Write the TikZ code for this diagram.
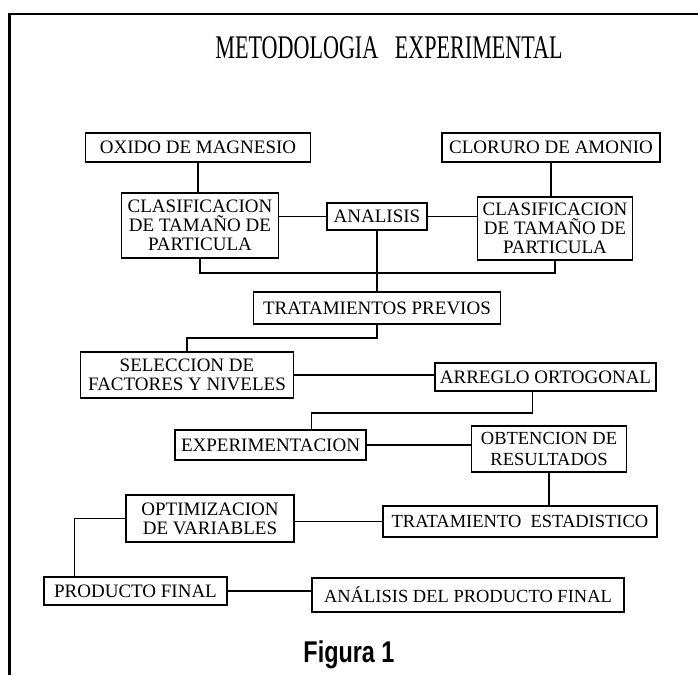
\documentclass[tikz,border=0pt]{standalone}
\usepackage{graphicx}
\usepackage{fontspec}
\setmainfont{Liberation Serif}
\newfontfamily\figfont{Liberation Sans}
\begin{document}
\begin{tikzpicture}[x=1pt, y=-1pt,
    caja/.style={draw, line width=1.5pt, inner sep=0pt, align=center,
      font=\fontsize{19}{19}\selectfont},
    cajat/.style={caja, font=\fontsize{18.5}{21}\selectfont},
    linea/.style={line width=1.5pt}]
    \useasboundingbox (0,0) rectangle (698,675);

    % Marco y titulo
    \draw[line width=2.6pt] (9.5,675) -- (9.5,14) -- (698,14);
    \node[font=\fontsize{33}{36}\selectfont] (titulo) at (389,48)
      {\scalebox{0.67}[1]{METODOLOGIA\ \ \ EXPERIMENTAL}};

    % Materias primas
    \node[caja, minimum width=225pt, minimum height=29pt] (oxido) at (198,147.5) {OXIDO DE MAGNESIO};
    \node[caja, minimum width=218pt, minimum height=29pt] (cloruro) at (551,147.5) {CLORURO DE AMONIO};
    \node[caja, minimum width=157pt, minimum height=65pt] (clasifA) at (200,225.5) {CLASIFICACION\\DE TAMAÑO DE\\PARTICULA};
    \node[caja, minimum width=100pt, minimum height=27pt] (analisis) at (377,216.5) {ANALISIS};
    \node[caja, minimum width=155pt, minimum height=63pt] (clasifB) at (555,228.5) {CLASIFICACION\\DE TAMAÑO DE\\PARTICULA};
    \node[caja, minimum width=247pt, minimum height=32pt] (tratprev) at (377,308) {TRATAMIENTOS PREVIOS};

    % Diseño experimental
    \node[caja, minimum width=213pt, minimum height=46pt] (seleccion) at (187,375) {SELECCION DE\\FACTORES Y NIVELES};
    \node[caja, minimum width=221pt, minimum height=28pt] (arreglo) at (545.5,377) {ARREGLO ORTOGONAL};
    \node[caja, minimum width=191pt, minimum height=30pt] (experim) at (270.5,445) {EXPERIMENTACION};
    \node[cajat, minimum width=155pt, minimum height=46pt] (obtencion) at (549,449) {OBTENCION DE\\RESULTADOS};
    \node[caja, minimum width=168pt, minimum height=47pt] (optimiz) at (210,518.5) {OPTIMIZACION\\DE VARIABLES};
    \node[cajat, minimum width=274pt, minimum height=31pt] (tratest) at (520,521.5) {TRATAMIENTO\ \ ESTADISTICO};
    \node[caja, minimum width=183pt, minimum height=28pt] (producto) at (135.5,591) {PRODUCTO FINAL};
    \node[cajat, minimum width=312pt, minimum height=34pt] (analfinal) at (468,595) {ANÁLISIS\ DEL\ PRODUCTO\ FINAL};

    \node[font=\figfont\bfseries\fontsize{30}{32}\selectfont] (figura) at (349,655)
      {\scalebox{0.78}[1]{Figura 1}};

    % Conexiones
    \draw[linea] (oxido.south) -- (oxido.south |- clasifA.north);
    \draw[linea] (cloruro.south) -- (cloruro.south |- clasifB.north);
    \draw[linea] (analisis.west) -- (analisis.west -| clasifA.east);
    \draw[linea] (analisis.east) -- (analisis.east -| clasifB.west);
    \coordinate (union) at (377,273);
    \draw[linea] (clasifA.south) |- (union) -| (clasifB.south);
    \draw[linea] (analisis.south) -- (analisis.south |- tratprev.north);
    \draw[linea] (tratprev.south) -- ++(0,13) -| (seleccion.north);
    \draw[linea] (seleccion.east) -- (seleccion.east -| arreglo.west);
    \draw[linea] ([xshift=-13pt]arreglo.south) -- ++(0,21) -| ([xshift=41pt]experim.north);
    \draw[linea] (experim.east) -- (experim.east -| obtencion.west);
    \draw[linea] (obtencion.south) -- (obtencion.south |- tratest.north);
    \draw[linea] (tratest.west) -- (tratest.west -| optimiz.east);
    \draw[linea] (optimiz.west) -| ([xshift=-61pt]producto.north);
    \draw[linea] (producto.east) -- (producto.east -| analfinal.west);
\end{tikzpicture}
\end{document}
